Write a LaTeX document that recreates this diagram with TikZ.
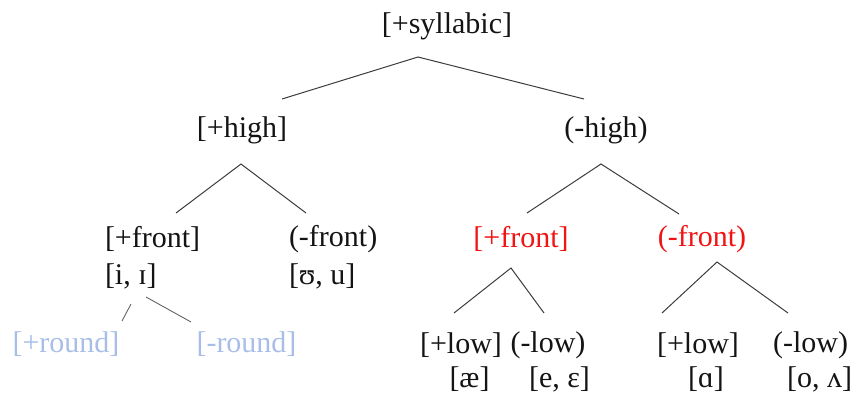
\documentclass[tikz,border=0pt]{standalone}
\usepackage{fontspec}
\setmainfont{Liberation Serif}
\definecolor{feat}{RGB}{20,20,20}
\definecolor{redf}{RGB}{240,20,20}
\definecolor{paleb}{RGB}{168,190,232}
\definecolor{edge}{RGB}{60,60,60}
\begin{document}
\begin{tikzpicture}[x=1pt,y=-1pt,
  lbl/.style={inner sep=0pt,outer sep=0pt,text=feat,yshift=-2pt,font=\fontsize{30}{36}\selectfont},
  redlbl/.style={lbl,text=redf},
  palelbl/.style={lbl,text=paleb},
  branch/.style={draw=edge,line width=1pt},
  faint/.style={draw=edge!80,line width=0.9pt}]
\useasboundingbox (0,0) rectangle (855,394);
% nodes
\node[lbl] (syl) at (447,24) {[+syllabic]};
\node[lbl] (high) at (242,128.5) {[+high]};
\node[lbl] (nhigh) at (606,128.5) {(-high)};
\node[lbl,anchor=west] (lfront) at (105,237) {[+front]};
\node[lbl,anchor=west] (lfrontv) at (105,274) {[i, ɪ]};
\node[lbl,anchor=west] (lback) at (289,237) {(-front)};
\node[lbl,anchor=west] (lbackv) at (289,274) {[ʊ, u]};
\node[palelbl] (pround) at (66,342) {[+round]};
\node[palelbl] (nround) at (246.5,342) {[-round]};
\node[redlbl] (rfront) at (521,237) {[+front]};
\node[redlbl] (rback) at (702,237) {(-front)};
\node[lbl] (flow) at (461,343) {[+low]};
\node[lbl] (fnlow) at (548,343) {(-low)};
\node[lbl] (flowv) at (469.5,377.5) {[æ]};
\node[lbl] (fnlowv) at (559.5,377.5) {[e, ɛ]};
\node[lbl] (blow) at (698,343) {[+low]};
\node[lbl] (bnlow) at (810.5,343) {(-low)};
\node[lbl] (blowv) at (706,377.5) {[ɑ]};
\node[lbl] (bnlowv) at (819.5,377.5) {[o, ʌ]};
% connector coordinates
\coordinate (sylA) at (418,57);
\coordinate (highT) at (282,99);
\coordinate (nhighT) at (584,99);
\coordinate (highA) at (241,164);
\coordinate (lfrontT) at (176,213);
\coordinate (lbackT) at (306,213);
\coordinate (nhighA) at (601,164);
\coordinate (rfrontT) at (527,213);
\coordinate (rbackT) at (679,214);
\coordinate (rfrontA) at (511,268);
\coordinate (flowT) at (454,313);
\coordinate (fnlowT) at (544,313);
\coordinate (rbackA) at (717,262);
\coordinate (blowT) at (662,313);
\coordinate (bnlowT) at (788,313);
\coordinate (roundA1) at (131,304);
\coordinate (proundT) at (122,321);
\coordinate (roundA2) at (146,297);
\coordinate (nroundT) at (191,322);
% connectors
\draw[branch] (highT) -- (sylA) -- (nhighT);
\draw[branch] (lfrontT) -- (highA) -- (lbackT);
\draw[branch] (rfrontT) -- (nhighA) -- (rbackT);
\draw[branch] (flowT) -- (rfrontA) -- (fnlowT);
\draw[branch] (blowT) -- (rbackA) -- (bnlowT);
\draw[faint] (roundA1) -- (proundT);
\draw[faint] (roundA2) -- (nroundT);
\end{tikzpicture}
\end{document}
